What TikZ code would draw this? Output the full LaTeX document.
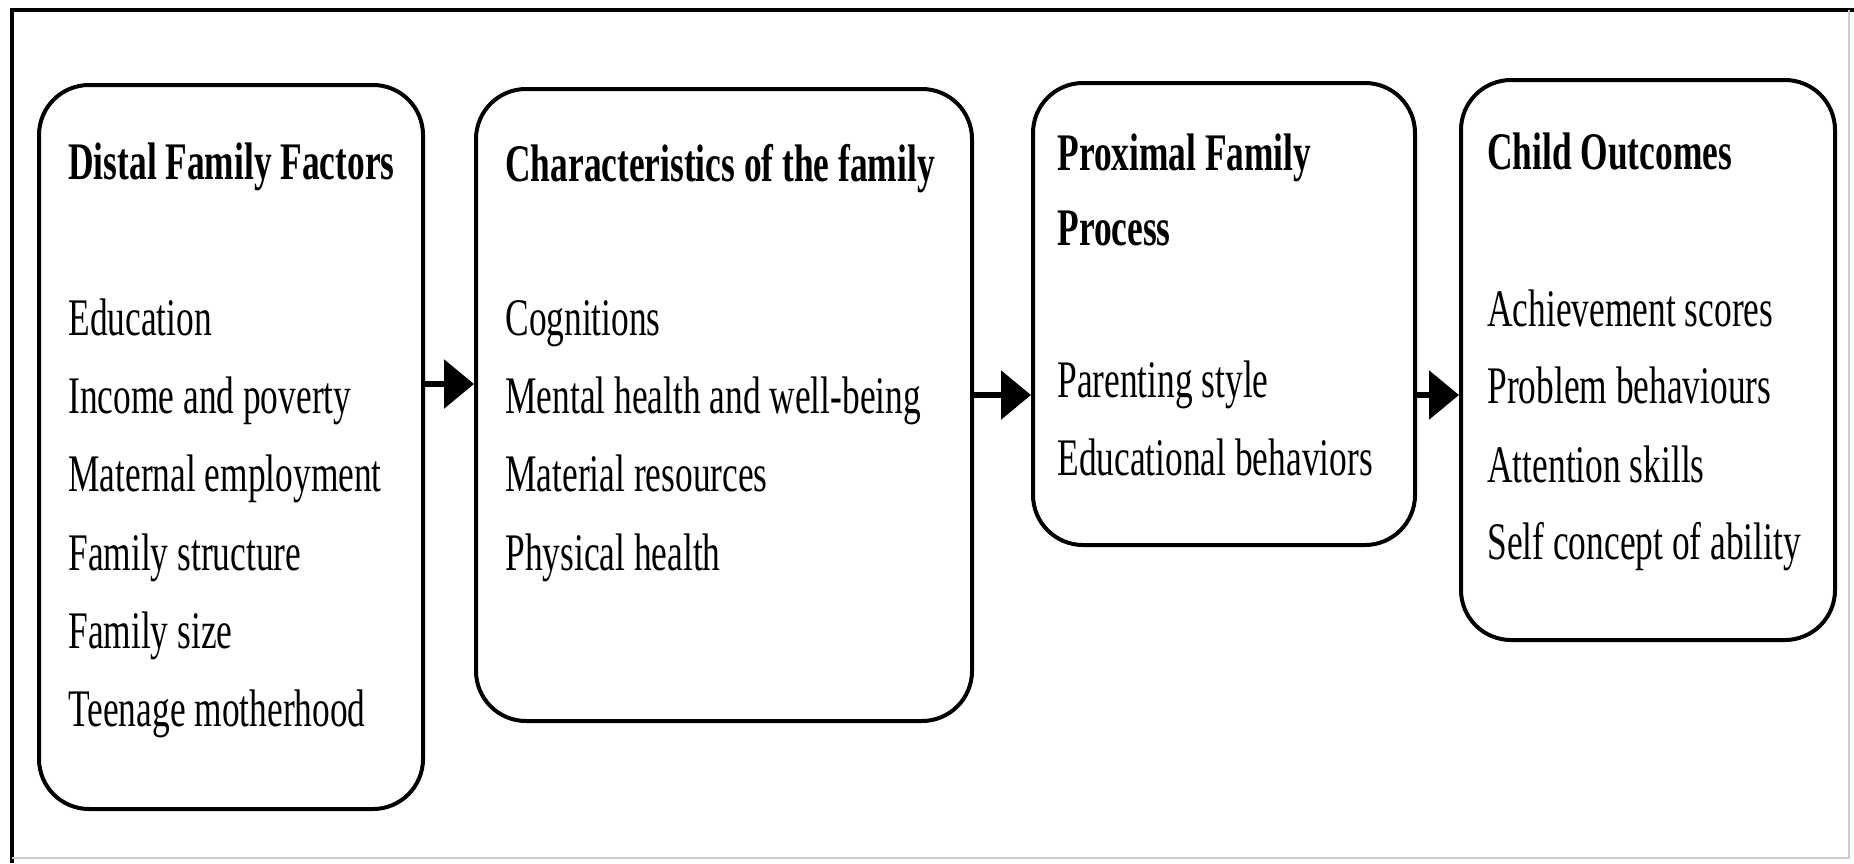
\documentclass[tikz,border=0pt]{standalone}
\usepackage{fontspec}
\setmainfont[FakeStretch=0.67]{Liberation Serif}
\usetikzlibrary{arrows.meta}
\tikzset{
  famBox/.style={draw, line width=2pt, rounded corners=25pt, anchor=center, inner sep=0pt},
  flow/.style={line width=3pt, -{Triangle[length=15pt,width=24pt]}},
  txt/.style={anchor=base west, inner sep=0pt, font=\fontsize{26.4}{40}\selectfont},
  head/.style={txt, font=\fontsize{26.4}{40}\selectfont\bfseries}
}
\begin{document}
\begin{tikzpicture}[x=0.5pt,y=-0.5pt]
\useasboundingbox (0,0) rectangle (1854,863);
% frame
\draw[line width=2pt] (12,863) -- (12,10) -- (1854,10);
\draw[black!20, line width=1pt] (12,858) -- (1849,858) -- (1849,10);
% boxes
\node[famBox, minimum width=192pt, minimum height=362pt] (distal) at (231,447) {};
\node[famBox, minimum width=248pt, minimum height=316pt] (charac) at (724,405) {};
\node[famBox, minimum width=191pt, minimum height=231pt] (proxim) at (1224,314) {};
\node[famBox, minimum width=187pt, minimum height=280pt] (child) at (1648,360) {};
% distal family factors
\node[head] (distalH) at (68,179) {Distal Family Factors};
\node[txt] (dEdu) at (68,335) {Education};
\node[txt] (dInc) at (68,413) {Income and poverty};
\node[txt] (dEmp) at (68,491) {Maternal employment};
\node[txt] (dStr) at (68,570) {Family structure};
\node[txt] (dSiz) at (68,648) {Family size};
\node[txt] (dTee) at (68,726) {Teenage motherhood};
% characteristics
\node[head] (characH) at (505,181) {Characteristics of the family};
\node[txt] (cCog) at (505,335) {Cognitions};
\node[txt] (cMen) at (505,413) {Mental health and well-being};
\node[txt] (cMat) at (505,491) {Material resources};
\node[txt] (cPhy) at (505,570) {Physical health};
% proximal
\node[head] (proximH) at (1057,170) {Proximal Family};
\node[head] (proximHb) at (1057,245) {Process};
\node[txt] (pPar) at (1057,397) {Parenting style};
\node[txt] (pEdu) at (1057,475) {Educational behaviors};
% child outcomes
\node[head] (childH) at (1487,169) {Child Outcomes};
\node[txt] (oAch) at (1487,326) {Achievement scores};
\node[txt] (oPro) at (1487,403) {Problem behaviours};
\node[txt] (oAtt) at (1487,482) {Attention skills};
\node[txt] (oSel) at (1487,559) {Self concept of ability};
% arrows
\draw[flow] ([yshift=31.5pt]distal.east) -- ([yshift=10.5pt]charac.west);
\draw[flow] ([yshift=5pt]charac.east) -- ([yshift=-40.5pt]proxim.west);
\draw[flow] ([yshift=-40.5pt]proxim.east) -- ([yshift=-17.5pt]child.west);
\end{tikzpicture}
\end{document}
